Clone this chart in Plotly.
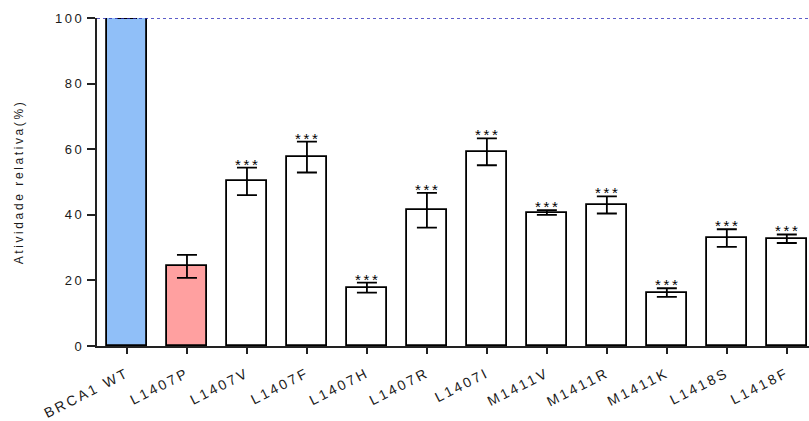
import plotly.graph_objects as go

# Relative activity of BRCA1 variants (% of wild type)
categories = ["BRCA1 WT", "L1407P", "L1407V", "L1407F", "L1407H", "L1407R",
              "L1407I", "M1411V", "M1411R", "M1411K", "L1418S", "L1418F"]
activity = [100, 24.3, 50.2, 57.6, 17.8, 41.4, 59.2, 40.7, 43.0, 16.3, 32.9, 32.7]
sem = [0, 3.5, 4.2, 4.7, 1.5, 5.3, 4.1, 0.7, 2.6, 1.3, 2.7, 1.3]
significance = ["", "", "***", "***", "***", "***", "***", "***", "***", "***", "***", "***"]

bar_colors = ["#90BFF8", "#FFA0A0"] + ["white"] * (len(categories) - 2)

fig = go.Figure()
fig.add_trace(go.Bar(
    x=list(range(len(categories))),
    y=activity,
    width=0.667,
    marker=dict(color=bar_colors, line=dict(color="black", width=1.8)),
    error_y=dict(type="data", array=sem, visible=True, color="black",
                 thickness=1.8, width=10),
    showlegend=False,
))

for i, (v, e, s) in enumerate(zip(activity, sem, significance)):
    if s:
        fig.add_annotation(x=i, y=v + e, text=s, showarrow=False,
                           yanchor="bottom", yshift=-7, xshift=1,
                           font=dict(size=15, color="black",
                                     family="Liberation Sans, Arial"))

# Reference level at 100 %
fig.add_shape(type="line", xref="paper", x0=0, x1=1, yref="y", y0=100, y1=100,
              line=dict(color="#2828B8", width=1.6, dash="dot"), layer="above")

fig.update_layout(
    width=809, height=421,
    margin=dict(l=97, r=0, t=18, b=75),
    plot_bgcolor="white", paper_bgcolor="white",
    font=dict(family="Liberation Sans, Arial", size=13, color="#1a1a1a"),
    bargap=0,
)
fig.update_xaxes(
    range=[-0.5, 11.37], tickmode="array",
    tickvals=list(range(len(categories))), ticktext=categories,
    tickangle=-27, ticks="outside", ticklen=6, tickwidth=1.5, tickcolor="#222",
    showline=True, linecolor="#222", linewidth=2, showgrid=False, zeroline=False,
    tickfont=dict(size=14), ticklabelstandoff=6,
)
fig.update_yaxes(
    range=[0, 100], tickvals=[0, 20, 40, 60, 80, 100],
    ticks="outside", ticklen=8, tickwidth=1.5, tickcolor="#222",
    showline=True, linecolor="#222", linewidth=2, showgrid=False, zeroline=False,
    title=dict(text="Atividade relativa(%)", font=dict(size=12), standoff=36),
    tickfont=dict(size=13),
)

# Wide tracking on all chart text
spacing_js = """
var st = document.createElement('style');
st.textContent = '.main-svg text { letter-spacing: 2.6px; }';
document.head.appendChild(st);
"""

fig.write_html("out.html", post_script=spacing_js)
